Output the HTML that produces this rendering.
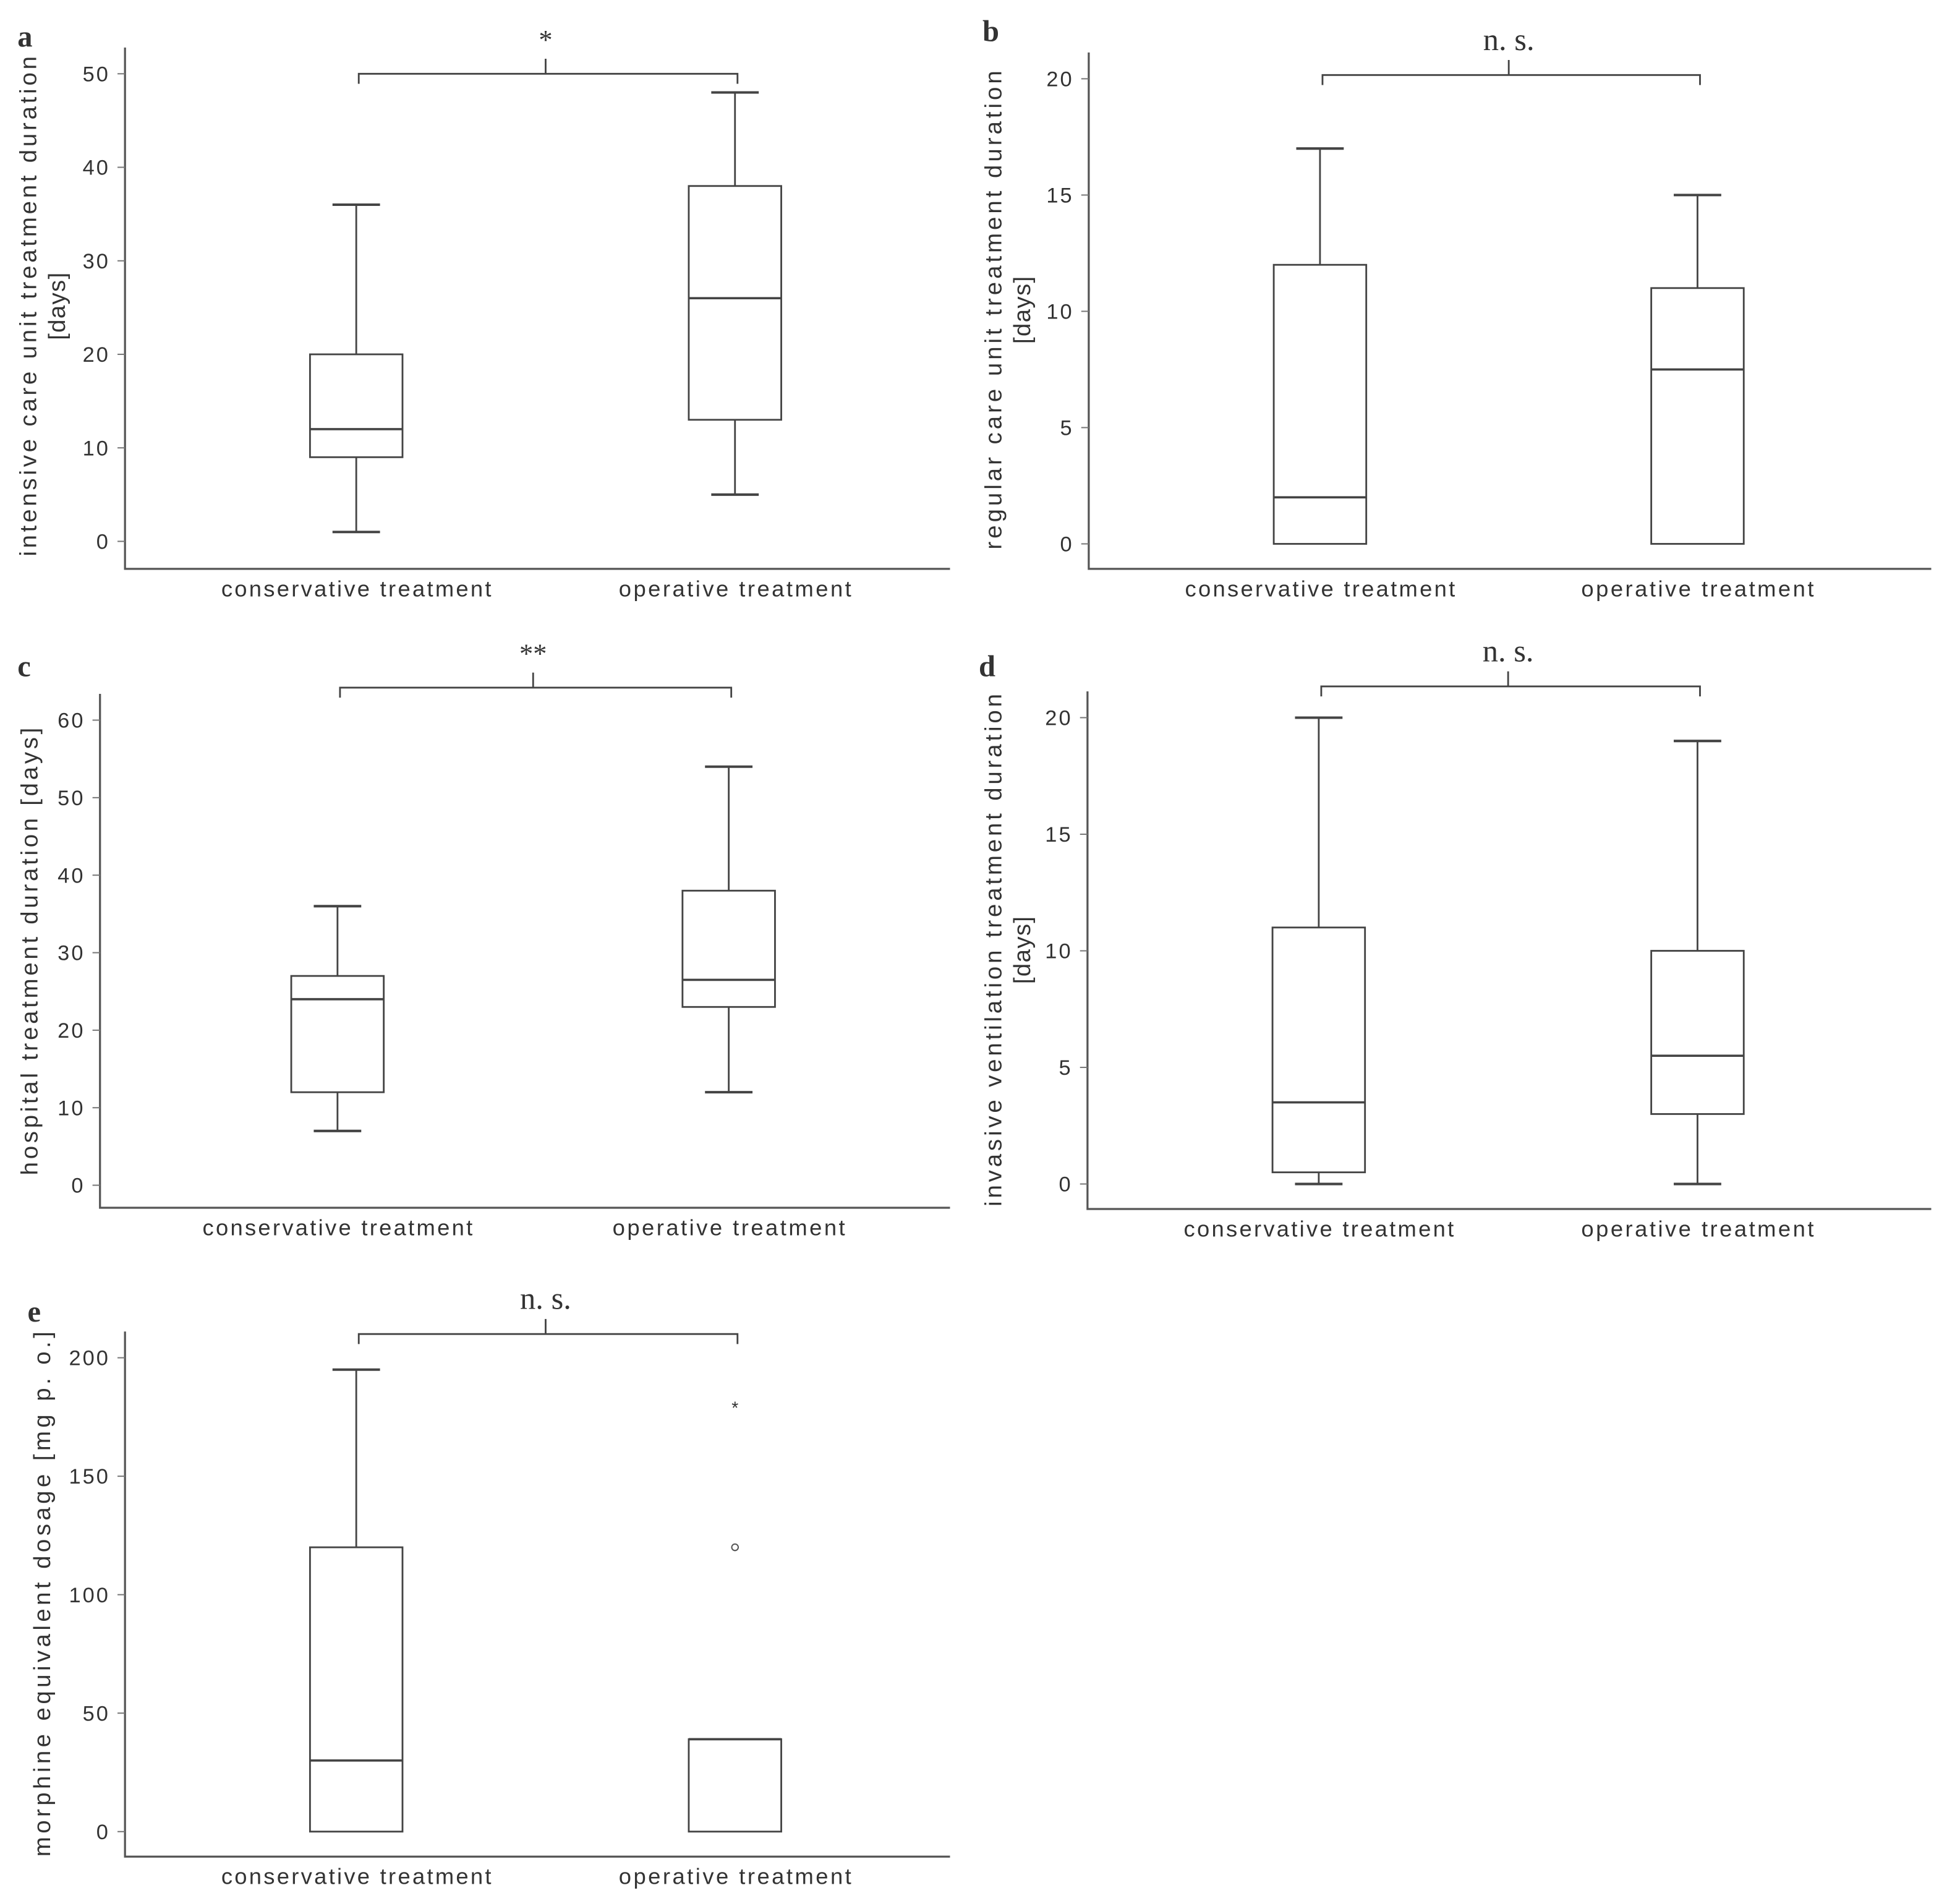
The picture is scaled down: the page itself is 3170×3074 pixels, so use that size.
<!DOCTYPE html>
<html><head><meta charset="utf-8"><style>
html,body{margin:0;padding:0;background:#fff;}
svg{display:block;}
text{font-family:"Liberation Sans",sans-serif;fill:#333;}
</style></head><body>
<svg id="fig" width="3170" height="3074" viewBox="0 0 1568 1520.5" xmlns="http://www.w3.org/2000/svg"></svg>
<script>
const categories = ["conservative treatment","operative treatment"];
// [min, q1, median, q3, max]
const aCons = [1, 9, 12, 20, 36];
const aOp = [5, 13, 26, 38, 48];
const bCons = [0, 0, 2, 12, 17];
const bOp = [0, 0, 7.5, 11, 15];
const cCons = [7, 12, 24, 27, 36];
const cOp = [12, 23, 26.5, 38, 54];
const dCons = [0, 0.5, 3.5, 11, 20];
const dOp = [0, 3, 5.5, 10, 19];
const eCons = [0, 0, 30, 120, 195];
const eOp = [0, 0, 39, 39, 39];
const eOpOutliers = [120];
const eOpExtremes = [180];
const aTicks = [0,10,20,30,40,50];
const bTicks = [0,5,10,15,20];
const cTicks = [0,10,20,30,40,50,60];
const dTicks = [0,5,10,15,20];
const eTicks = [0,50,100,150,200];

const NS="http://www.w3.org/2000/svg";
const svg=document.getElementById('fig');
function el(tag,attrs,parent,txt){const e=document.createElementNS(NS,tag);for(const k in attrs)e.setAttribute(k,attrs[k]);if(txt!==undefined)e.textContent=txt;(parent||svg).appendChild(e);return e;}
const ST={stroke:'#444','stroke-width':1.4,fill:'none'};
const catLen=[216,186];

function panel(p){
  const g=el('g',{});
  
  
  const y=v=>p.y0+(v-p.vmin)*(p.y1-p.y0)/(p.vmax-p.vmin);
  const axes=el('path',{d:`M${p.ax} ${p.top}V${p.bottom}H${p.right}`,stroke:'#555','stroke-width':1.6,fill:'none'},g);
  
  
  p.ticks.forEach(t=>{
    el('line',{x1:p.ax-6,x2:p.ax,y1:y(t),y2:y(t),stroke:'#777','stroke-width':1},g);
    const tl=el('text',{x:p.ax-12,y:y(t)+6,'text-anchor':'end','font-size':17,'letter-spacing':1.5},g,String(t));
    
    
  });
  const lt=el('text',{x:p.lx,y:p.ly,'font-size':24,'font-weight':'bold',style:'font-family:"Liberation Serif",serif'},g,p.letter);
  
  
  const yl=el('text',{transform:`translate(${p.ylx},${p.ylc}) rotate(-90)`,'text-anchor':'middle','font-size':19},g);
  
  
  p.ylabel.forEach((s,i)=>el('tspan',{x:0,dy:i?23:0,textLength:i?54:p.yllen,lengthAdjust:'spacing'},yl,s));
  [p.s1,p.s2].forEach((s,i)=>{
    const cx=p.cx[i], hw=37, cw=19;
    const bg=el('g',{},g);
    
    
    if(s[4]>s[3]){el('line',{x1:cx,x2:cx,y1:y(s[3]),y2:y(s[4]),...ST},bg);el('line',{x1:cx-cw,x2:cx+cw,y1:y(s[4]),y2:y(s[4]),...ST,'stroke-width':2},bg);}
    if(s[0]<s[1]){el('line',{x1:cx,x2:cx,y1:y(s[1]),y2:y(s[0]),...ST},bg);el('line',{x1:cx-cw,x2:cx+cw,y1:y(s[0]),y2:y(s[0]),...ST,'stroke-width':2},bg);}
    el('rect',{x:cx-hw,y:y(s[3]),width:2*hw,height:Math.max(0.5,y(s[1])-y(s[3])),...ST,fill:'#fff'},bg);
    el('line',{x1:cx-hw,x2:cx+hw,y1:y(s[2]),y2:y(s[2]),...ST,'stroke-width':1.8},bg);
    const cl=el('text',{x:cx,y:p.bottom+22,'text-anchor':'middle','font-size':18,textLength:catLen[i],lengthAdjust:'spacing'},g,categories[i]);
    
    
  });
  if(p.outliers){p.outliers.forEach(v=>{const c=el('circle',{cx:p.cx[1],cy:y(v),r:2.6,fill:'none',stroke:'#555','stroke-width':1},g);});}
  if(p.extremes){p.extremes.forEach(v=>{const c=el('text',{x:p.cx[1],y:y(v)+7,'text-anchor':'middle','font-size':14},g,'*');});}
  const mx=(p.cx[0]+p.cx[1])/2;
  const br=el('path',{d:`M${p.cx[0]+2} ${p.by+8}V${p.by}H${p.cx[1]+2}V${p.by+8}M${mx} ${p.by}V${p.by-12}`,stroke:'#444','stroke-width':1.4,fill:'none'},g);
  
  
  const sg=el('text',{x:mx,y:p.by-20,'text-anchor':'middle','font-size':p.sig==='n. s.'?25:22,style:'font-family:"Liberation Serif",serif'},g,p.sig);
  
  
}
panel({letter:'a',s1:aCons,s2:aOp,ticks:aTicks,vmin:0,vmax:50,y0:433,y1:59,ax:100,top:38,bottom:455,right:760,cx:[285,588],by:59,sig:'*',lx:14,ly:37,ylx:29,ylc:245,yllen:400,ylabel:['intensive care unit treatment duration','[days]']});
panel({letter:'b',s1:bCons,s2:bOp,ticks:bTicks,vmin:0,vmax:20,y0:435,y1:63,ax:871,top:42,bottom:455,right:1545,cx:[1056,1358],by:60,sig:'n. s.',lx:786,ly:33,ylx:801,ylc:248,yllen:383,ylabel:['regular care unit treatment duration','[days]']});
panel({letter:'c',s1:cCons,s2:cOp,ticks:cTicks,vmin:0,vmax:60,y0:948,y1:576,ax:80,top:555,bottom:966,right:760,cx:[270,583],by:550,sig:'**',lx:14,ly:541,ylx:30,ylc:761,yllen:358,ylabel:['hospital treatment duration [days]']});
panel({letter:'d',s1:dCons,s2:dOp,ticks:dTicks,vmin:0,vmax:20,y0:947,y1:574,ax:870,top:553,bottom:967,right:1545,cx:[1055,1358],by:549,sig:'n. s.',lx:783,ly:541,ylx:801,ylc:760,yllen:410,ylabel:['invasive ventilation treatment duration','[days]']});
panel({letter:'e',s1:eCons,s2:eOp,ticks:eTicks,vmin:0,vmax:200,y0:1465,y1:1086,ax:100,top:1065,bottom:1485,right:760,cx:[285,588],by:1067,sig:'n. s.',lx:22,ly:1057,ylx:40,ylc:1275,yllen:420,ylabel:['morphine equivalent dosage [mg p. o.]'],outliers:eOpOutliers,extremes:eOpExtremes});
</script>
</body></html>
